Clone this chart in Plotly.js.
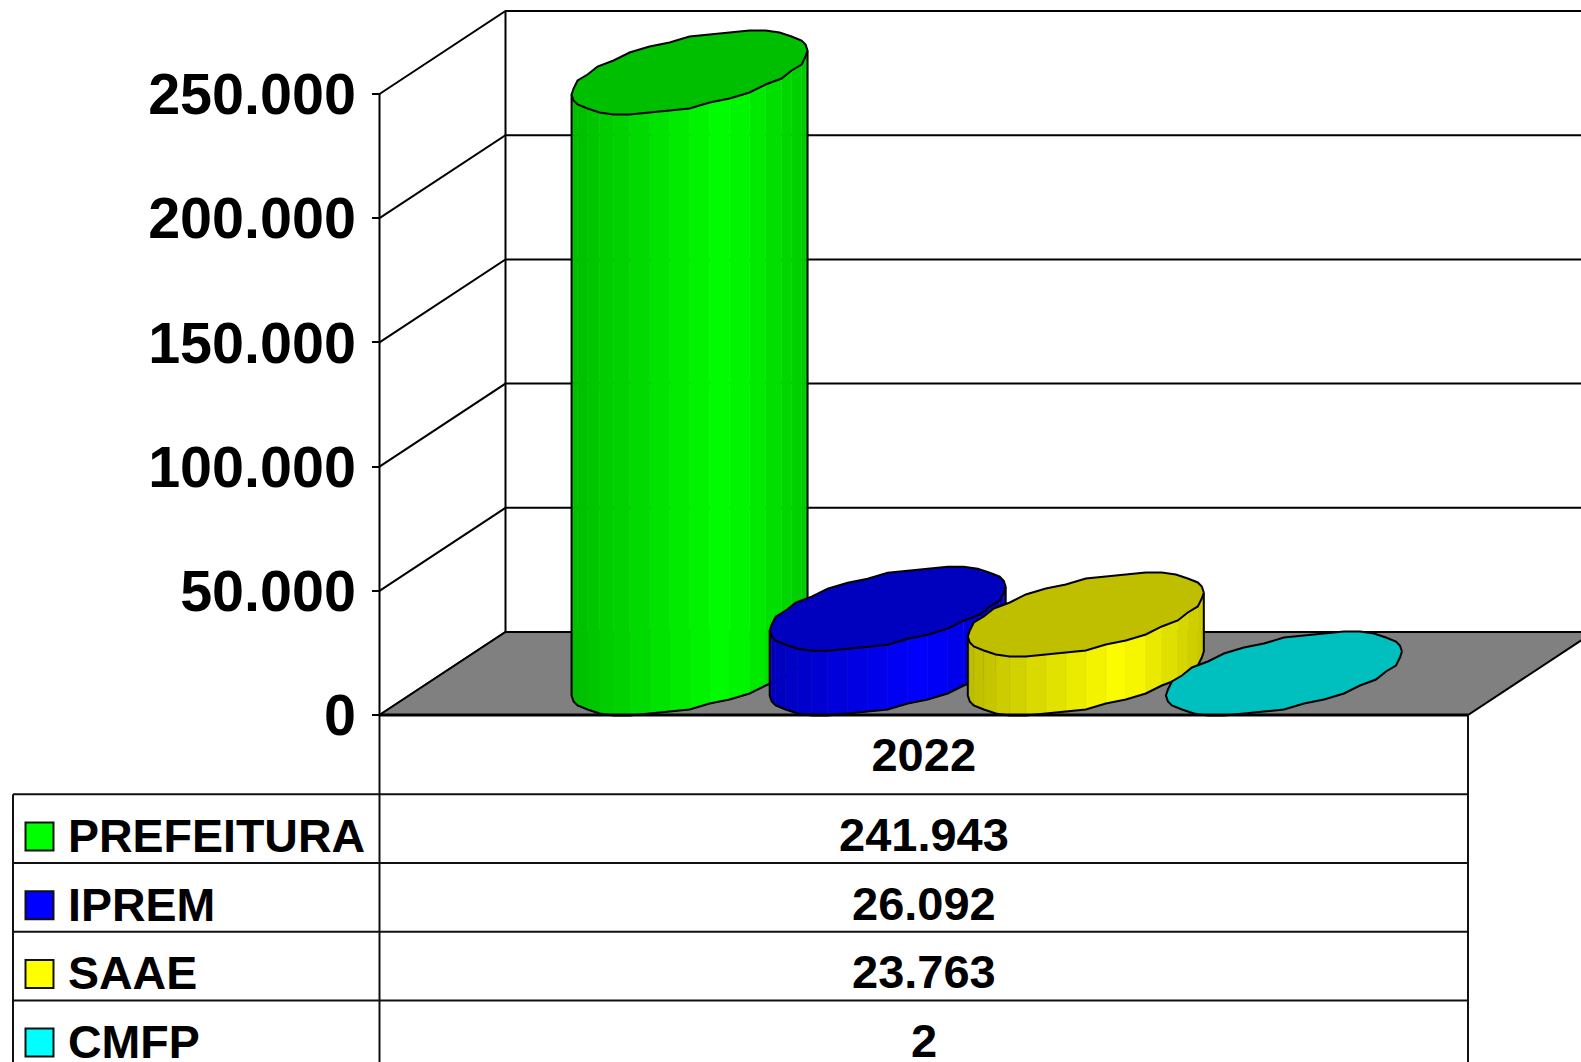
<!DOCTYPE html>
<html><head><meta charset="utf-8">
<script src="https://cdn.plot.ly/plotly-3.0.1.min.js"></script>
<style>html,body{margin:0;padding:0;background:#fff;overflow:hidden}#chart{width:1581px;height:1062px}</style>
</head><body><div id="chart"></div>
<script>
// ---- data ----
const categories = ['2022'];
const seriesNames = ['PREFEITURA', 'IPREM', 'SAAE', 'CMFP'];
const seriesValues = [241943, 26092, 23763, 2];
const seriesColors = [[0,255,0],[0,0,255],[255,255,0],[0,255,255]];
const yTicks = [0, 50000, 100000, 150000, 200000, 250000];

// ---- page geometry -> axis ranges ----
const W = 1581, H = 1062;
const frontLeft = 379.5, frontRight = 1468, zeroPx = 715, topTickPx = 94;
const uPerPxX = 1 / (frontRight - frontLeft);
const uPerPxY = 250000 / (zeroPx - topTickPx);
const X = px => (px - frontLeft) * uPerPxX;
const Y = py => (zeroPx - py) * uPerPxY;
const depthX = 126 * uPerPxX, depthY = 83 * uPerPxY;
const gapFrac = 148 / 1088.5, barW = (1 - 2 * gapFrac) / seriesNames.length;
const FONT = 'Liberation Sans';
const INK = '#000';

const traces = [];
const lineTrace = (xs, ys, w, color) => traces.push({type:'scatter', mode:'lines', x:xs, y:ys,
  line:{color:color||INK, width:w, simplify:false}, hoverinfo:'skip', showlegend:false});
const fillTrace = (xs, ys, fill, lw) => traces.push({type:'scatter', mode:'lines', x:xs, y:ys, fill:'toself', fillcolor:fill,
  line:{color:lw ? INK : fill, width:lw||0.5, simplify:false}, hoverinfo:'skip', showlegend:false});
const rgb = (c, k) => `rgb(${Math.round(c[0]*k)},${Math.round(c[1]*k)},${Math.round(c[2]*k)})`;

// back wall and side wall
const wx = [], wy = [];
yTicks.forEach(v => {
  wx.push(0, depthX, 1 + depthX + 0.1, null); wy.push(v, v + depthY, v + depthY, null);
});
wx.push(0, 0, null, depthX, depthX); wy.push(0, 250000, null, 0 + depthY, 250000 + depthY);
lineTrace(wx, wy, 2);

// floor
fillTrace([0, 1, 1 + depthX, depthX, 0], [0, 0, depthY, depthY, 0], '#808080', 2);

// cylinders: a coarse polygon, its corners snapped to a pixel grid like the source's faceted outline
const N = 36, halfDepth = 0.5, snapPx = 2;
const t0 = Math.atan2(63, 100);
const snap = (v, perPx) => Math.round(v / perPx / snapPx) * snapPx * perPx;
seriesValues.forEach((val, s) => {
  const cx = gapFrac + barW * (s + 0.5) + depthX * halfDepth, cy = depthY * halfDepth;
  const a = barW / 2 + 1.5 * uPerPxX;
  const ox = t => snap(a * Math.cos(t) + depthX * halfDepth * Math.sin(t), uPerPxX);
  const oy = t => snap(depthY * halfDepth * Math.sin(t), uPerPxY);
  const px = t => cx + ox(t);
  const ts = []; for (let k = 0; k <= N; k++) ts.push(t0 - k * 2 * Math.PI / N);
  const front = ts.slice(0, N / 2 + 1);
  const xL = px(t0 + Math.PI), xR = px(t0);
  if (val > 1000) {
    // side facets
    for (let i = 0; i < N / 2; i++) {
      const x1 = px(front[i]), x2 = px(front[i + 1]);
      const u = ((x1 + x2) / 2 - xL) / (xR - xL);
      const k = u < 0.66 ? 0.74 + 0.26 * u / 0.66 : 1 - 0.22 * (u - 0.66) / 0.34;
      fillTrace([x1, x2, x2, x1, x1],
        [cy + oy(front[i]), cy + oy(front[i + 1]), cy + val + oy(front[i + 1]), cy + val + oy(front[i]), cy + oy(front[i])],
        rgb(seriesColors[s], k));
    }
    // silhouette: verticals and the lower arc
    lineTrace(
      [xR, ...front.map(px), xL],
      [cy + val + oy(front[0]), ...front.map(t => cy + oy(t)), cy + val + oy(front[N / 2])], 2);
  }
  // top cap
  fillTrace(ts.map(px), ts.map(t => cy + val + oy(t)), rgb(seriesColors[s], 0.75), 2);
});

// table grid
const rowTop = 794.3, rowH = 68.7, legendLeft = 13;
const gx = [X(frontLeft), X(frontLeft), null, X(frontRight), X(frontRight), null, X(legendLeft), X(legendLeft)];
const gy = [Y(zeroPx), Y(H + 5), null, Y(zeroPx), Y(H + 5), null, Y(rowTop), Y(H + 5)];
seriesNames.forEach((_, i) => {
  gx.push(null, X(legendLeft), X(frontRight));
  gy.push(null, Y(rowTop + rowH * i), Y(rowTop + rowH * i));
});
lineTrace(gx, gy, 2, '#111');
lineTrace([0, 1], [0, 0], 3);

// legend swatches
traces.push({type:'scatter', mode:'markers',
  x: seriesNames.map(() => X(39.5)),
  y: seriesNames.map((_, i) => Y(836.5 + rowH * i)),
  marker:{symbol:'square', size:28, color:seriesColors.map(c => rgb(c, 1)), line:{color:'#111', width:2}},
  hoverinfo:'skip', showlegend:false});

// table texts
const fmt = v => String(v).replace(/\B(?=(\d{3})+$)/g, '.');
const annotations = [];
seriesNames.forEach((name, i) => {
  annotations.push({x:X(66), y:Y(836 + rowH * i), xref:'x', yref:'y', text:name, showarrow:false, xanchor:'left', yanchor:'middle',
    font:{family:FONT, size:46.5, weight:700, color:'#000'}});
  annotations.push({x:0.5, y:Y(834.5 + rowH * i), xref:'x', yref:'y', text:fmt(seriesValues[i]), showarrow:false, xanchor:'center', yanchor:'middle',
    font:{family:FONT, size:47, weight:700, color:'#000'}});
});

const layout = {
  width: W, height: H, margin:{l:0, r:0, t:0, b:0, pad:0}, showlegend:false,
  paper_bgcolor:'#fff', plot_bgcolor:'rgba(0,0,0,0)', separators:',.',
  xaxis:{range:[X(0), X(W)], showgrid:false, zeroline:false, showline:false, anchor:'free', position:(H - zeroPx) / H,
    tickmode:'array', tickvals:[0.5], ticktext:categories, ticks:'', ticklabelstandoff:8,
    tickfont:{family:FONT, size:47, weight:700, color:'#000'}},
  yaxis:{range:[Y(H), Y(0)], showgrid:false, zeroline:false, showline:false, anchor:'free', position:frontLeft / W,
    tickmode:'array', tickvals:yTicks, tickformat:',d', ticks:'outside', ticklen:8, tickwidth:2, tickcolor:'#000', ticklabelstandoff:4,
    tickfont:{family:FONT, size:57.5, weight:700, color:'#000'}},
  annotations
};
Plotly.newPlot('chart', traces, layout, {displayModeBar:false, responsive:false, staticPlot:true});
</script></body></html>
